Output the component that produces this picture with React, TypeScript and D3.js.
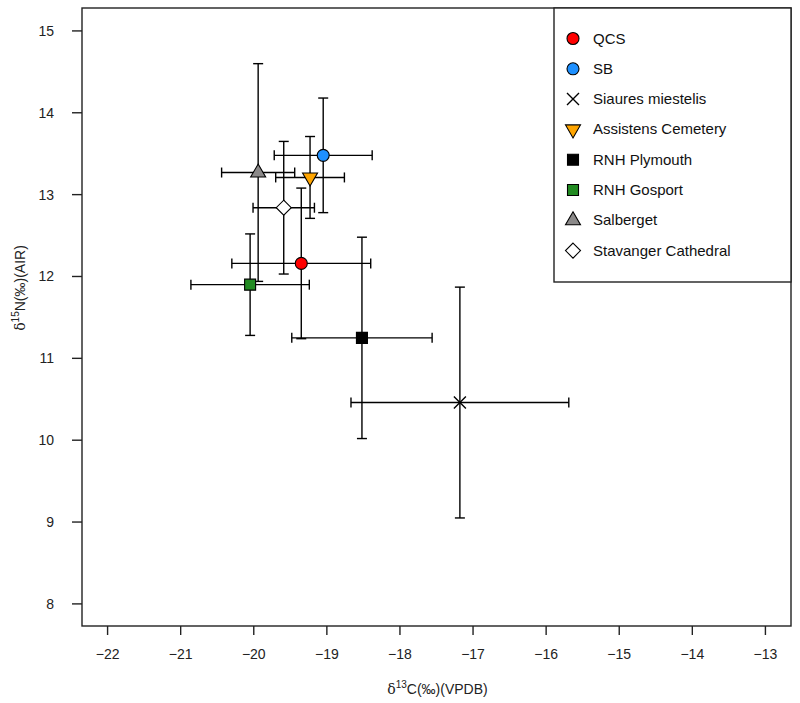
import React from "react";
import * as d3 from "d3";

const sites = ["QCS", "SB", "Siaures miestelis", "Assistens Cemetery", "RNH Plymouth", "RNH Gosport", "Salberget", "Stavanger Cathedral"];
const d13C = [-19.35, -19.05, -17.18, -19.23, -18.52, -20.05, -19.94, -19.59];
const d15N = [12.16, 13.48, 10.46, 13.21, 11.25, 11.9, 13.27, 12.84];
const sdC = [0.95, 0.67, 1.49, 0.47, 0.96, 0.81, 0.5, 0.42];
const sdN = [0.92, 0.7, 1.41, 0.5, 1.23, 0.62, 1.33, 0.81];
const shapes = ["circle", "circle", "x", "triDown", "square", "square", "triUp", "diamond"];
const fills = ["#ff0000", "#1e90ff", "none", "#ffa500", "#000000", "#228b22", "#8b8989", "#ffffff"];
const xTicks = [-22, -21, -20, -19, -18, -17, -16, -15, -14, -13];
const yTicks = [8, 9, 10, 11, 12, 13, 14, 15];

const W = 800, H = 703;
const L = 82, R = 791, T = 8, B = 626;
const FONT = "'Liberation Sans', Arial, sans-serif";

function shapePath(type: string): string {
  const p = d3.path();
  if (type === "circle") {
    p.arc(0, 0, 6, 0, Math.PI * 2);
  } else if (type === "square") {
    p.rect(-5.5, -5.5, 11, 11);
  } else if (type === "triUp") {
    p.moveTo(0, -8.5); p.lineTo(7.5, 4.5); p.lineTo(-7.5, 4.5); p.closePath();
  } else if (type === "triDown") {
    p.moveTo(0, 8.5); p.lineTo(7.5, -4.5); p.lineTo(-7.5, -4.5); p.closePath();
  } else if (type === "diamond") {
    p.moveTo(0, -7.5); p.lineTo(7.5, 0); p.lineTo(0, 7.5); p.lineTo(-7.5, 0); p.closePath();
  } else if (type === "x") {
    p.moveTo(-6, -6); p.lineTo(6, 6); p.moveTo(-6, 6); p.lineTo(6, -6);
  }
  return p.toString();
}

function Marker({ type, fill, x, y }: { type: string; fill: string; x: number; y: number }) {
  return (
    <path
      d={shapePath(type)}
      transform={`translate(${x},${y})`}
      fill={fill}
      stroke="#000"
      strokeWidth={type === "x" ? 1.4 : 1.1}
    />
  );
}

export default function App() {
  const x = d3.scaleLinear().domain([-22.35, -12.65]).range([L, R]);
  const y = d3.scaleLinear().domain([7.73, 15.28]).range([B, T]);
  const cap = 5;
  const legX = 554, legTop = T, legBot = 282;
  const rowY = (i: number) => 38.5 + i * 30.3;

  return (
    <svg width={W} height={H} style={{ position: "absolute", left: 0, top: 0, background: "#fff" }} fontFamily={FONT}>
      <rect x={0} y={0} width={W} height={H} fill="#fff" />
      {/* error bars */}
      <g stroke="#000" strokeWidth={1.4} fill="none">
        {sites.map((s, i) => {
          const cx = x(d13C[i]), cy = y(d15N[i]);
          const x0 = x(d13C[i] - sdC[i]), x1 = x(d13C[i] + sdC[i]);
          const y0 = y(d15N[i] + sdN[i]), y1 = y(d15N[i] - sdN[i]);
          return (
            <g key={s}>
              <line x1={x0} x2={x1} y1={cy} y2={cy} />
              <line x1={x0} x2={x0} y1={cy - cap} y2={cy + cap} />
              <line x1={x1} x2={x1} y1={cy - cap} y2={cy + cap} />
              <line x1={cx} x2={cx} y1={y0} y2={y1} />
              <line x1={cx - cap} x2={cx + cap} y1={y0} y2={y0} />
              <line x1={cx - cap} x2={cx + cap} y1={y1} y2={y1} />
            </g>
          );
        })}
      </g>
      {/* points */}
      {sites.map((s, i) => (
        <Marker key={s} type={shapes[i]} fill={fills[i]} x={x(d13C[i])} y={y(d15N[i])} />
      ))}
      {/* plot box */}
      <rect x={L} y={T} width={R - L} height={B - T} fill="none" stroke="#222" strokeWidth={1.4} />
      {/* axes ticks */}
      <g stroke="#222" strokeWidth={1.4}>
        {xTicks.map((t) => (
          <line key={t} x1={x(t)} x2={x(t)} y1={B} y2={B + 9} />
        ))}
        {yTicks.map((t) => (
          <line key={t} x1={L} x2={L - 10} y1={y(t)} y2={y(t)} />
        ))}
      </g>
      <g fontSize={14} fill="#222">
        {xTicks.map((t) => (
          <text key={t} x={x(t)} y={659} textAnchor="middle">{t < 0 ? "\u2212" + Math.abs(t) : String(t)}</text>
        ))}
        {yTicks.map((t) => (
          <text key={t} x={54} y={y(t) + 5} textAnchor="end">{String(t)}</text>
        ))}
      </g>
      {/* axis titles */}
      <text x={(L + R) / 2 + 1} y={694} textAnchor="middle" fontSize={14} fill="#222">
        <tspan fontFamily="'DejaVu Serif', serif">δ</tspan>
        <tspan fontSize={10} dy={-6}>13</tspan>
        <tspan dy={6}>C(‰)(VPDB)</tspan>
      </text>
      <text transform="translate(25,288) rotate(-90)" textAnchor="middle" fontSize={14} fill="#222">
        <tspan fontFamily="'DejaVu Serif', serif">δ</tspan>
        <tspan fontSize={10} dy={-6}>15</tspan>
        <tspan dy={6}>N(‰)(AIR)</tspan>
      </text>
      {/* legend */}
      <rect x={legX} y={legTop} width={R - legX} height={legBot - legTop} fill="#fff" stroke="#222" strokeWidth={1.4} />
      {sites.map((s, i) => (
        <g key={s}>
          <Marker type={shapes[i]} fill={fills[i]} x={573} y={rowY(i)} />
          <text x={593} y={rowY(i) + 5} fontSize={15} fill="#111">{s}</text>
        </g>
      ))}
    </svg>
  );
}
